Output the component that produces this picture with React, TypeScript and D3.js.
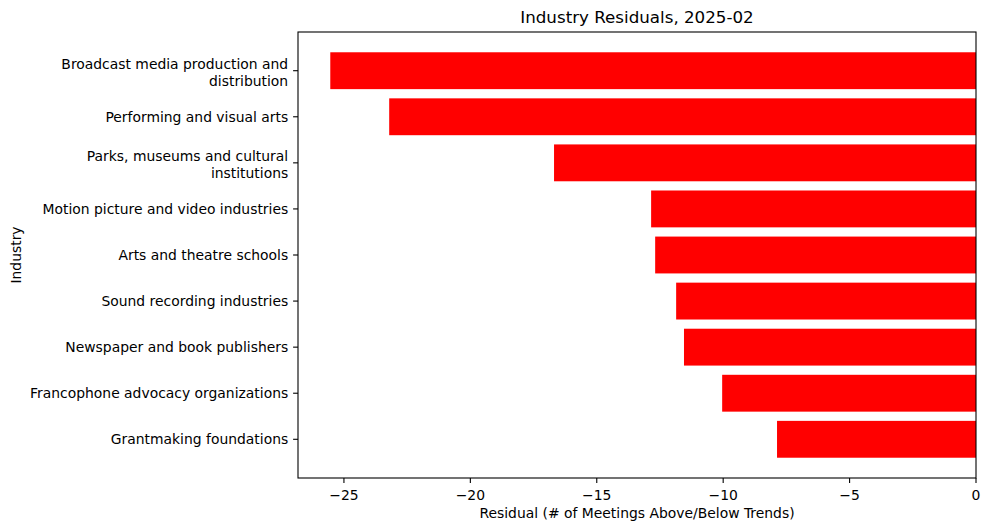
import React from "react";
import * as d3 from "d3";

const industries: string[][] = [
  ["Broadcast media production and", "distribution"],
  ["Performing and visual arts"],
  ["Parks, museums and cultural", "institutions"],
  ["Motion picture and video industries"],
  ["Arts and theatre schools"],
  ["Sound recording industries"],
  ["Newspaper and book publishers"],
  ["Francophone advocacy organizations"],
  ["Grantmaking foundations"],
];
const residuals: number[] = [-25.54, -23.21, -16.69, -12.85, -12.69, -11.86, -11.55, -10.04, -7.87];
const xTicks: number[] = [-25, -20, -15, -10, -5, 0];
const title = "Industry Residuals, 2025-02";
const xLabel = "Residual (# of Meetings Above/Below Trends)";
const yLabel = "Industry";

export default function App() {
  const W = 990, H = 531;
  const left = 298, right = 976, top = 32, bottom = 478;
  const minV = d3.min(residuals) as number;
  const x = d3.scaleLinear().domain([minV * 1.05, 0]).range([left, right]);
  const n = residuals.length;
  const y = d3.scaleLinear().domain([-0.4 - 0.044 * 10, n - 1 + 0.4 + 0.44]).range([top, bottom]);
  const font = "DejaVu Sans, sans-serif";
  const fs = 13.9;
  return (
    <svg width={W} height={H} style={{ position: "absolute", left: 0, top: 0 }} fontFamily={font}>
      <rect x={0} y={0} width={W} height={H} fill="#fff" />
      {residuals.map((v, i) => (
        <rect key={i} x={x(v)} y={y(i - 0.4)} width={x(0) - x(v)} height={y(i + 0.4) - y(i - 0.4)} fill="#ff0000" />
      ))}
      <rect x={left} y={top} width={right - left} height={bottom - top} fill="none" stroke="#000" strokeWidth={1.1} />
      {xTicks.map((t) => (
        <g key={t}>
          <line x1={x(t)} x2={x(t)} y1={bottom} y2={bottom + 4.9} stroke="#000" strokeWidth={1.1} />
          <text x={x(t)} y={bottom + 22} fontSize={fs} textAnchor="middle" fill="#000">
            {t < 0 ? "\u2212" + Math.abs(t) : String(t)}
          </text>
        </g>
      ))}
      {industries.map((lines, i) => {
        const cy = y(i);
        const lh = 17;
        const start = cy - ((lines.length - 1) * lh) / 2 + (lines.length > 1 ? 2 : 0);
        return (
          <g key={i}>
            <line x1={left - 4.9} x2={left} y1={cy} y2={cy} stroke="#000" strokeWidth={1.1} />
            {lines.map((ln, j) => (
              <text key={j} x={left - 9.8} y={start + j * lh} dy="0.35em" fontSize={fs} textAnchor="end" fill="#000">
                {ln}
              </text>
            ))}
          </g>
        );
      })}
      <text x={(left + right) / 2} y={518} fontSize={fs} textAnchor="middle" fill="#000">{xLabel}</text>
      <text transform={`translate(21,${(top + bottom) / 2}) rotate(-90)`} fontSize={fs} textAnchor="middle" fill="#000">{yLabel}</text>
      <text x={(left + right) / 2} y={23} fontSize={16.7} textAnchor="middle" fill="#000">{title}</text>
    </svg>
  );
}
